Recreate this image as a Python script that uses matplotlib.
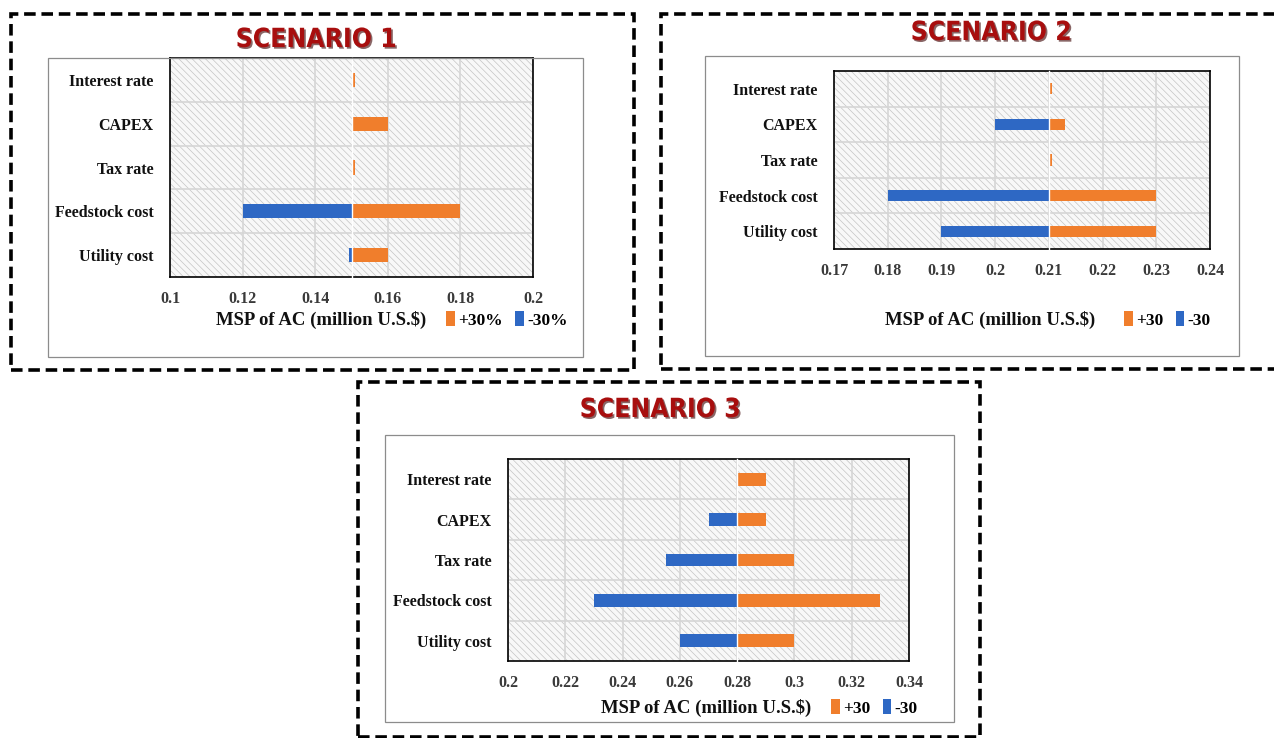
import matplotlib
matplotlib.use("Agg")
import matplotlib.pyplot as plt
from matplotlib.patches import Rectangle, Patch
import matplotlib.patheffects as pe

# ---------------- data ----------------
categories = ["Interest rate", "CAPEX", "Tax rate", "Feedstock cost", "Utility cost"]

s1_base = 0.15
s1_plus = [0.151, 0.16, 0.151, 0.18, 0.16]
s1_minus = [0.15, 0.15, 0.15, 0.12, 0.1492]
s1_ticks = [0.1, 0.12, 0.14, 0.16, 0.18, 0.2]
s1_ticklabels = ["0.1", "0.12", "0.14", "0.16", "0.18", "0.2"]

s2_base = 0.21
s2_plus = [0.2105, 0.213, 0.2105, 0.23, 0.23]
s2_minus = [0.21, 0.20, 0.21, 0.18, 0.19]
s2_ticks = [0.17, 0.18, 0.19, 0.20, 0.21, 0.22, 0.23, 0.24]
s2_ticklabels = ["0.17", "0.18", "0.19", "0.2", "0.21", "0.22", "0.23", "0.24"]

s3_base = 0.28
s3_plus = [0.29, 0.29, 0.30, 0.33, 0.30]
s3_minus = [0.28, 0.27, 0.255, 0.23, 0.26]
s3_ticks = [0.20, 0.22, 0.24, 0.26, 0.28, 0.30, 0.32, 0.34]
s3_ticklabels = ["0.2", "0.22", "0.24", "0.26", "0.28", "0.3", "0.32", "0.34"]

titles = ["SCENARIO 1", "SCENARIO 2", "SCENARIO 3"]
xlabel = "MSP of AC (million U.S.$)"
legend_labels = [["+30%", "-30%"], ["+30", "-30"], ["+30", "-30"]]

# ---------------- style ----------------
W, H = 1274, 738
ORANGE = "#F07E2C"
BLUE = "#2E68C4"
TITLE_RED = "#A80E0E"
SERIF = ["Liberation Serif", "DejaVu Serif"]
TITLE_FONT = ["DejaVu Sans"]

plt.rcParams["hatch.linewidth"] = 0.5

fig = plt.figure(figsize=(W / 100, H / 100), dpi=100)
fig.patch.set_facecolor("white")


def fx(px):
    return px / W


def fy(py):
    return 1 - py / H


def frect(x0, y0, x1, y1, **kw):
    r = Rectangle((fx(x0), fy(y1)), fx(x1) - fx(x0), fy(y0) - fy(y1),
                  transform=fig.transFigure, fill=False, **kw)
    fig.add_artist(r)


panels = [
    dict(border=(11, 14, 634, 370), box=(48, 58, 583, 357), plot=(170, 58, 533, 277),
         title=(316, 40), xl=(321, 320), leg=(446, 320),
         base=s1_base, plus=s1_plus, minus=s1_minus, ticks=s1_ticks, tl=s1_ticklabels,
         xlim=(0.1, 0.2)),
    dict(border=(661, 14, 1290, 369), box=(705, 56, 1239, 356), plot=(834, 71, 1210, 249),
         title=(991, 33), xl=(990, 320), leg=(1124, 320),
         base=s2_base, plus=s2_plus, minus=s2_minus, ticks=s2_ticks, tl=s2_ticklabels,
         xlim=(0.17, 0.24)),
    dict(border=(358, 382, 980, 737), box=(385, 435, 954, 722), plot=(508, 459, 909, 661),
         title=(660, 410), xl=(706, 708), leg=(831, 708),
         base=s3_base, plus=s3_plus, minus=s3_minus, ticks=s3_ticks, tl=s3_ticklabels,
         xlim=(0.2, 0.34)),
]

for i, p in enumerate(panels):
    # dashed outer border
    frect(*p["border"], edgecolor="black", lw=2.6, linestyle=(0, (3.2, 1.6)), zorder=5)
    # chart box
    frect(*p["box"], edgecolor="#8c8c8c", lw=0.9, zorder=4)

    x0, y0, x1, y1 = p["plot"]
    ax = fig.add_axes([fx(x0), fy(y1), fx(x1) - fx(x0), fy(y0) - fy(y1)])
    ax.set_facecolor("#f8f8f8")
    ax.add_patch(Rectangle((0, 0), 1, 1, transform=ax.transAxes, facecolor="none",
                           edgecolor="#c4c4c4", hatch="\\\\\\\\\\", lw=0, zorder=0))

    n = len(categories)
    ypos = list(range(n))
    # grid
    for t in p["ticks"]:
        ax.axvline(t, color="#d6d6d6", lw=1.2, zorder=1)
    for k in range(n - 1):
        ax.axhline(k + 0.5, color="#d6d6d6", lw=1.2, zorder=1)

    base = p["base"]
    ax.barh(ypos, [v - base for v in p["plus"]], left=base, height=0.32,
            color=ORANGE, zorder=3, label=legend_labels[i][0])
    ax.barh(ypos, [v - base for v in p["minus"]], left=base, height=0.32,
            color=BLUE, zorder=3, label=legend_labels[i][1])
    ax.axvline(base, color="white", lw=1.0, zorder=4, ymin=-0.03, ymax=1, clip_on=False)

    ax.set_xlim(*p["xlim"])
    ax.set_ylim(n - 0.5, -0.5)
    ax.set_xticks(p["ticks"])
    ax.set_xticklabels(p["tl"], fontfamily=SERIF, fontweight="bold", fontsize=11.5,
                       color="#3a3a3a")
    ax.set_yticks(ypos)
    ax.set_yticklabels(categories, fontfamily=SERIF, fontweight="bold", fontsize=11.5,
                       color="#111111")
    ax.tick_params(axis="both", length=0)
    ax.tick_params(axis="x", pad=10)
    ax.tick_params(axis="y", pad=12)
    for s in ax.spines.values():
        s.set_color("black")
        s.set_linewidth(1.2)

    # title
    tx, ty = p["title"]
    fig.text(fx(tx), fy(ty), titles[i], ha="center", va="center", fontsize=19,
             fontweight="heavy", fontstretch="condensed", family=TITLE_FONT,
             color=TITLE_RED,
             path_effects=[pe.withSimplePatchShadow(offset=(1.2, -1.2),
                                                    shadow_rgbFace="#3a0000", alpha=0.6)])

    # x label
    lx, ly = p["xl"]
    fig.text(fx(lx), fy(ly), xlabel, ha="center", va="center", fontsize=13.5,
             fontweight="bold", family=SERIF, color="#111111")

    # legend
    gx, gy = p["leg"]
    handles = [Patch(facecolor=ORANGE), Patch(facecolor=BLUE)]
    fig.legend(handles, legend_labels[i], loc="center left",
               bbox_to_anchor=(fx(gx), fy(gy)), ncol=2, frameon=False,
               handlelength=0.5, handleheight=0.9, handletextpad=0.2, columnspacing=0.7,
               borderaxespad=0, borderpad=0,
               prop=dict(family=SERIF, weight="bold", size=12.5))

fig.savefig("out.png", dpi=100, facecolor="white")
